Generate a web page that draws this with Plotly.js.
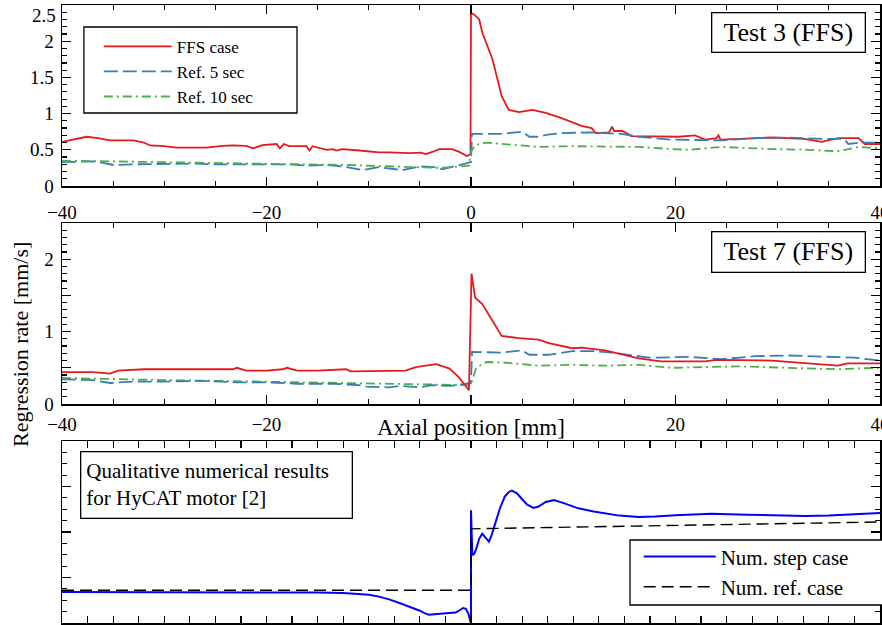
<!DOCTYPE html>
<html>
<head>
<meta charset="utf-8">
<script src="https://cdn.plot.ly/plotly-3.0.1.min.js"></script>
<style>html,body{margin:0;padding:0;background:#fff;}#chart{width:882px;height:625px;}</style>
</head>
<body>
<div id="chart"></div>
<script>
// ---------- Test 3 (FFS) ----------
const t3FfsX = [-40,-39,-37.6,-36.5,-35.3,-33,-32,-31.4,-30,-28.8,-27,-25.9,-24.3,-23.3,-22,-21.3,-20.4,-19,-18.7,-18.3,-17.8,-16.1,-15.8,-15.5,-14.1,-13.5,-13.2,-12.6,-10.9,-10,-9,-8,-7,-6,-4.9,-4.4,-3.8,-3.1,-1.85,-1.2,-0.4,-0.05,0,0.3,0.8,1.1,2.1,3.0,3.7,4.7,6.0,7.3,8.8,10.8,11.8,12.2,13.5,13.8,14.0,14.8,15.7,18,20.3,21.9,22.9,24.0,24.2,24.4,26.1,29.4,32.6,34.3,35.9,37.9,38.5,40];
const t3FfsY = [0.61,0.64,0.68,0.66,0.63,0.63,0.60,0.56,0.55,0.53,0.53,0.53,0.555,0.56,0.555,0.52,0.565,0.58,0.52,0.58,0.55,0.55,0.49,0.55,0.50,0.51,0.49,0.51,0.49,0.475,0.465,0.465,0.46,0.455,0.46,0.44,0.47,0.51,0.51,0.475,0.415,0.44,2.39,2.37,2.3,2.12,1.75,1.24,1.05,1.02,1.05,1.01,0.94,0.83,0.8,0.73,0.74,0.82,0.76,0.76,0.69,0.69,0.68,0.70,0.64,0.66,0.70,0.64,0.65,0.67,0.65,0.61,0.66,0.66,0.58,0.58];
const t3Ref5X = [-40,-37,-36,-35,-33,-30,-27,-25,-22,-20,-18,-16,-14,-12.6,-10.6,-9,-6.7,-5,-3.5,-2.8,-1.5,-0.2,0,0.1,3,5,5.7,6.6,7.5,8.8,11.5,14.7,16.4,19.6,22.9,24.5,27.8,31,34.3,36.5,36.9,38.1,40];
const t3Ref5Y = [0.33,0.34,0.32,0.29,0.30,0.31,0.31,0.30,0.30,0.29,0.30,0.28,0.29,0.27,0.22,0.26,0.22,0.27,0.26,0.23,0.28,0.33,0.33,0.72,0.72,0.75,0.68,0.68,0.71,0.73,0.74,0.72,0.68,0.64,0.64,0.63,0.66,0.67,0.65,0.65,0.58,0.60,0.60];
const t3Ref10X = [-40,-35,-30,-25,-20,-15,-12,-10,-6,-3,-1,-0.2,0,0.5,1.5,3.4,6.6,9.9,13.1,16.4,19.6,21.3,24.5,29.4,33,35.9,37.9,40];
const t3Ref10Y = [0.35,0.34,0.33,0.32,0.31,0.30,0.29,0.28,0.26,0.25,0.27,0.28,0.48,0.57,0.60,0.58,0.54,0.55,0.55,0.54,0.51,0.50,0.54,0.51,0.50,0.48,0.54,0.52];

// ---------- Test 7 (FFS) ----------
const t7FfsX = [-40,-37,-35.3,-34.5,-32,-28,-23.3,-22.9,-22,-20,-18.4,-18,-17,-15,-12.2,-11.8,-10,-8,-6.4,-5.4,-4.4,-3.4,-2.1,-1.2,-0.2,0.05,0.4,1.1,2.1,3.0,4.7,6.6,7.6,9.9,10.8,13.1,16.4,18.6,22.9,24.0,29.4,32.6,35.9,36.8,38.5,40];
const t7FfsY = [0.44,0.44,0.42,0.46,0.48,0.48,0.48,0.50,0.46,0.46,0.48,0.50,0.46,0.46,0.48,0.45,0.45,0.46,0.46,0.51,0.53,0.55,0.49,0.37,0.19,1.80,1.47,1.38,1.15,0.94,0.91,0.89,0.84,0.77,0.78,0.74,0.63,0.59,0.59,0.61,0.60,0.57,0.53,0.56,0.56,0.56];
const t7Ref5X = [-40,-37,-35.3,-33,-30,-26.5,-23,-20,-17,-13.5,-11,-10.2,-8,-7,-5,-3.8,-2,-0.2,0,0.1,3,5,5.7,7.6,9.9,12,13.8,17.4,21.3,24.5,27.8,31,34.3,37.5,40];
const t7Ref5Y = [0.34,0.33,0.29,0.31,0.31,0.32,0.30,0.30,0.28,0.28,0.26,0.24,0.23,0.25,0.23,0.26,0.25,0.29,0.29,0.72,0.71,0.74,0.68,0.68,0.73,0.73,0.71,0.64,0.65,0.62,0.66,0.67,0.65,0.64,0.60];
const t7Ref10X = [-40,-35,-30,-25,-20,-15,-10,-6,-3,-1,-0.2,0,0.5,1.5,3.4,6.6,9.9,13.1,16.4,19.6,22.9,26.1,31,35.9,37.5,40];
const t7Ref10Y = [0.36,0.34,0.33,0.32,0.31,0.30,0.29,0.28,0.27,0.27,0.26,0.26,0.50,0.58,0.57,0.53,0.54,0.53,0.54,0.50,0.51,0.52,0.50,0.48,0.49,0.50];

// ---------- Numerical (qualitative) ----------
const numStepX = [-40,-30,-20,-15,-12.5,-11,-10,-9,-8,-7,-6,-5,-4.5,-4.1,-3.6,-3,-2.2,-1.5,-1.1,-0.8,-0.5,-0.25,-0.05,0,0,0.05,0.13,0.3,0.5,0.8,1.1,1.4,1.75,2.0,2.3,2.8,3.3,3.7,4.0,4.5,5.0,5.5,6.1,6.6,7.3,8.1,9.0,10.5,12,13.1,14.5,16.4,18,20,23.5,27,30,32.7,35,38,40];
const numStepY = [0.68,0.68,0.675,0.67,0.66,0.64,0.62,0.58,0.52,0.44,0.36,0.27,0.21,0.18,0.19,0.20,0.21,0.23,0.28,0.33,0.31,0.20,0.03,0.02,2.48,1.8,1.49,1.52,1.62,1.85,1.96,1.88,1.79,1.92,2.15,2.5,2.78,2.88,2.91,2.85,2.72,2.6,2.53,2.56,2.66,2.70,2.64,2.52,2.45,2.41,2.36,2.33,2.34,2.37,2.40,2.38,2.36,2.35,2.36,2.39,2.42];
const numRefX = [-40,0,0,40];
const numRefY = [0.72,0.72,2.07,2.22];

const xTickVals = [-40,-20,0,20,40];
const xTickTextTop = ['\u221240','\u221220','0','20','40'];
const xTickTextMid = ['\u221240','\u221220','','20','40'];
const yTickValsTop = [0,0.5,1,1.5,2,2.5];
const yTickTextTop = ['0','0.5','1','1.5','2',''];
const yTickValsMid = [0,0.5,1,1.5,2];
const yTickTextMid = ['0','','1','','2'];

const FONT = 'Liberation Serif, Times New Roman, serif';
const RED = '#e41a1c', BLUE = '#377eb8', GREEN = '#4daf4a';

function line(x, y, color, dash, name, xa, ya, show, legend) {
  return {x: x, y: y, type: 'scatter', mode: 'lines', name: name,
    line: {color: color, width: 1.8, dash: dash},
    xaxis: xa, yaxis: ya, showlegend: show, legend: legend || 'legend', hoverinfo: 'skip'};
}
const DASH5 = '14px,5px';
const DASH10 = '9px,4px,2px,4px';

const data = [
  line(t3FfsX, t3FfsY, RED, 'solid', 'FFS case', 'x', 'y', true),
  line(t3Ref5X, t3Ref5Y, BLUE, DASH5, 'Ref. 5 sec', 'x', 'y', true),
  line(t3Ref10X, t3Ref10Y, GREEN, DASH10, 'Ref. 10 sec', 'x', 'y', true),
  line(t7Ref10X, t7Ref10Y, GREEN, DASH10, 'Ref. 10 sec', 'x2', 'y2', false),
  line(t7Ref5X, t7Ref5Y, BLUE, DASH5, 'Ref. 5 sec', 'x2', 'y2', false),
  line(t7FfsX, t7FfsY, RED, 'solid', 'FFS case', 'x2', 'y2', false),
  line(numStepX, numStepY, '#0000ff', 'solid', 'Num. step case', 'x3', 'y3', true, 'legend2'),
  line(numRefX, numRefY, '#000000', '12px,6px', 'Num. ref. case', 'x3', 'y3', true, 'legend2')
];
data[6].line.width = 2;
data[7].line.width = 1.4;

const axBase = {showline: true, linecolor: 'black', linewidth: 1.5, mirror: 'allticks',
  ticks: 'inside', tickcolor: 'black', tickwidth: 1.2, showgrid: false, zeroline: false,
  ticklabeloverflow: 'allow',
  tickfont: {family: FONT, size: 19, color: 'black'}};

function xa(anchor, textArr, standoff) {
  return Object.assign({}, axBase, {anchor: anchor, domain: [0, 1], range: [-40, 40],
    tickmode: 'array', tickvals: xTickVals, ticktext: textArr, ticklen: 9,
    showticklabels: true, ticklabelstandoff: standoff,
    minor: {dtick: 5, tick0: 0, ticklen: 5, ticks: 'inside', tickcolor: 'black', tickwidth: 1.2, showgrid: false}});
}

const layout = {
  width: 882, height: 625,
  margin: {l: 62, r: 2, t: 0, b: 0},
  paper_bgcolor: 'white', plot_bgcolor: 'white',
  font: {family: FONT, color: 'black'},
  xaxis: xa('y', xTickTextTop, 9),
  xaxis2: xa('y2', xTickTextMid, 3),
  xaxis3: Object.assign({}, axBase, {anchor: 'y3', domain: [0, 1], range: [-40, 40],
    dtick: 2.5, tick0: 0, ticklen: 7, showticklabels: false}),
  yaxis: Object.assign({}, axBase, {anchor: 'x', domain: [0.7024, 0.992], range: [0, 2.5],
    tickmode: 'array', tickvals: yTickValsTop, ticktext: yTickTextTop, ticklen: 9, ticklabelstandoff: 3,
    minor: {dtick: 0.1, tick0: 0, ticklen: 5, ticks: 'inside', tickcolor: 'black', tickwidth: 1.2, showgrid: false}}),
  yaxis2: Object.assign({}, axBase, {anchor: 'x2', domain: [0.3536, 0.6432], range: [0, 2.5],
    tickmode: 'array', tickvals: yTickValsMid, ticktext: yTickTextMid, ticklen: 9, ticklabelstandoff: 3,
    minor: {dtick: 0.1, tick0: 0, ticklen: 5, ticks: 'inside', tickcolor: 'black', tickwidth: 1.2, showgrid: false}}),
  yaxis3: Object.assign({}, axBase, {anchor: 'x3', domain: [0.0032, 0.2944], range: [0, 4],
    dtick: 1, tick0: 0, ticklen: 9, showticklabels: false,
    minor: {dtick: 0.25, tick0: 0, ticklen: 5, ticks: 'inside', tickcolor: 'black', tickwidth: 1.2, showgrid: false}}),
  showlegend: true,
  legend: {x: 0.045, y: 0.954, xanchor: 'left', yanchor: 'top', bgcolor: 'rgba(0,0,0,0)',
    borderwidth: 0, font: {family: FONT, size: 17, color: 'black'}, itemwidth: 68, traceorder: 'normal'},
  legend2: {x: 0.705, y: 0.142, xanchor: 'left', yanchor: 'top', bgcolor: 'rgba(0,0,0,0)',
    borderwidth: 0, font: {family: FONT, size: 21, color: 'black'}, itemwidth: 72, traceorder: 'normal'},
  shapes: [
    {type: 'rect', xref: 'paper', yref: 'paper', x0: 0.0268, x1: 0.2873, y0: 0.8192, y1: 0.9568,
      line: {color: 'black', width: 1.3}, fillcolor: 'white', layer: 'above'},
    {type: 'rect', xref: 'paper', yref: 'paper', x0: 0.6944, x1: 1.01, y0: 0.032, y1: 0.136,
      line: {color: 'black', width: 1.3}, fillcolor: 'white', layer: 'above'}
  ],
  annotations: [
    {text: '2.5', xref: 'paper', yref: 'paper', x: 0, y: 1 - 15 / 625, xshift: -4, showarrow: false,
      xanchor: 'right', yanchor: 'middle', font: {family: FONT, size: 19, color: 'black'}},
    {text: 'Test 3 (FFS)', xref: 'paper', yref: 'paper', x: 0.8878, y: 0.9472, showarrow: false,
      xanchor: 'center', yanchor: 'middle', font: {family: FONT, size: 26, color: 'black'},
      bordercolor: 'black', borderwidth: 1.3, bgcolor: 'white', width: 150, height: 36, borderpad: 1},
    {text: 'Test 7 (FFS)', xref: 'paper', yref: 'paper', x: 0.8878, y: 0.5976, showarrow: false,
      xanchor: 'center', yanchor: 'middle', font: {family: FONT, size: 26, color: 'black'},
      bordercolor: 'black', borderwidth: 1.3, bgcolor: 'white', width: 150, height: 37, borderpad: 1},
    {text: 'Qualitative numerical results<br>for HyCAT motor [2]', xref: 'paper', yref: 'paper',
      x: 0.189, y: 0.2248, showarrow: false, xanchor: 'center', yanchor: 'middle', align: 'left',
      font: {family: FONT, size: 21, color: 'black'}, bordercolor: 'black', borderwidth: 1.3,
      bgcolor: 'white', width: 260, height: 55, borderpad: 5},
    {text: 'Axial position [mm]', xref: 'paper', yref: 'paper', x: 0.5, y: 0.3168, showarrow: false,
      xanchor: 'center', yanchor: 'middle', font: {family: FONT, size: 23, color: 'black'}},
    {text: 'Regression rate [mm/s]', xref: 'paper', yref: 'paper', x: 0, y: 0.448,
      showarrow: false, textangle: -90, xanchor: 'center', yanchor: 'middle',
      font: {family: FONT, size: 22, color: 'black'}}
  ]
};
// y-title centre ~20px from the left edge of the figure
layout.annotations[5].x = (20 - 62) / 818;

Plotly.newPlot('chart', data, layout, {staticPlot: true, displayModeBar: false});
</script>
</body>
</html>
